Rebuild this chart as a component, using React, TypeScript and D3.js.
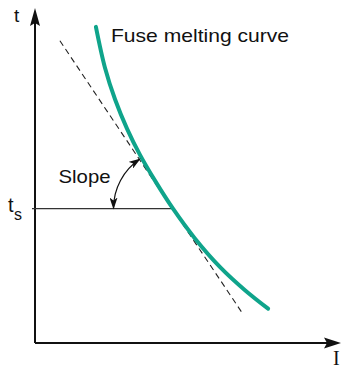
import * as d3 from "d3";

// fuse melting curve (I and t in arbitrary units 0..100)
const curveI = [20.3, 23.3, 26.7, 30.7, 35, 40, 46, 53.3, 61.7, 70, 77.7];
const curveT = [95.8, 83.5, 73.8, 64.9, 57.0, 49.2, 40.7, 31.7, 23.0, 16.0, 10.4];

// tangent (dashed) line end points
const tangentI = [8.3, 69.3];
const tangentT = [91.6, 8.8];

// the point where the tangent touches the curve
const touchI = 46;
const ts = 40.75;

const width = 341;
const height = 368;

export default function App() {
  const x = d3.scaleLinear().domain([0, 100]).range([35, 335]);
  const y = d3.scaleLinear().domain([0, 100]).range([343, 13]);

  const line = d3
    .line<[number, number]>()
    .x((d) => x(d[0]))
    .y((d) => y(d[1]))
    .curve(d3.curveCatmullRom);

  const curvePts = curveI.map((d, i) => [d, curveT[i]] as [number, number]);
  const tanPts = tangentI.map((d, i) => [d, tangentT[i]] as [number, number]);

  // slope arc, centred on the touching point
  const cx = x(touchI);
  const cy = y(ts);
  const r = 59.5;
  const dx = x(tangentI[0]) - x(tangentI[1]);
  const dy = y(tangentT[0]) - y(tangentT[1]);
  const len = Math.hypot(dx, dy);
  const ex = cx + (r * dx) / len;
  const ey = cy + (r * dy) / len;
  const arcPath = `M${cx - r},${cy} A${r},${r} 0 0 1 ${ex},${ey}`;

  const x0 = x(0);
  const y0 = y(0);
  const xEnd = x.range()[1];
  const yEnd = y.range()[1];

  return (
    <svg
      width={width}
      height={height}
      style={{ position: "absolute", left: 0, top: 0 }}
      fontFamily="'Liberation Sans', Arial, sans-serif"
    >
      <defs>
        <marker
          id="arr"
          viewBox="0 0 12 8"
          refX="11"
          refY="4"
          markerWidth="12"
          markerHeight="8"
          markerUnits="userSpaceOnUse"
          orient="auto-start-reverse"
        >
          <path d="M0,0 L12,4 L0,8 L3,4 Z" fill="#111" />
        </marker>
      </defs>

      {/* axes */}
      <line x1={x0} y1={y0} x2={x0} y2={yEnd} stroke="#111" strokeWidth={2} />
      <path
        d={`M${x0},${8} L${x0 + 5},${26} L${x0},${23} L${x0 - 5},${26} Z`}
        fill="#111"
      />
      <line x1={x0} y1={y0} x2={xEnd - 6} y2={y0} stroke="#111" strokeWidth={2} />
      <path
        d={`M${341},${y0} L${324},${y0 - 5.5} L${327},${y0} L${324},${y0 + 5.5} Z`}
        fill="#111"
      />

      {/* t_s level */}
      <line
        x1={x0 - 3}
        y1={cy}
        x2={cx}
        y2={cy}
        stroke="#333"
        strokeWidth={1.2}
      />

      {/* tangent */}
      <path
        d={line(tanPts) ?? ""}
        fill="none"
        stroke="#222"
        strokeWidth={1.1}
        strokeDasharray="6 4"
      />

      {/* melting curve */}
      <path
        d={line(curvePts) ?? ""}
        fill="none"
        stroke="#0fa48b"
        strokeWidth={4}
        strokeLinecap="round"
      />

      {/* slope arc */}
      <path
        d={arcPath}
        fill="none"
        stroke="#111"
        strokeWidth={1.2}
        markerStart="url(#arr)"
        markerEnd="url(#arr)"
      />

      {/* labels */}
      <text x={14} y={21.5} fontSize={19} fill="#111">
        t
      </text>
      <text x={8} y={211.5} fontSize={20} fill="#111">
        t
      </text>
      <text x={14} y={220} fontSize={16} fill="#111">
        s
      </text>
      <text
        x={111}
        y={41.7}
        fontSize={19}
        fill="#111"
        textLength={178}
        lengthAdjust="spacingAndGlyphs"
      >
        Fuse melting curve
      </text>
      <text
        x={58.5}
        y={183.3}
        fontSize={19}
        fill="#111"
        textLength={52}
        lengthAdjust="spacingAndGlyphs"
      >
        Slope
      </text>
      <text
        x={333}
        y={365}
        fontSize={20}
        fontFamily="'Liberation Serif', 'Times New Roman', serif"
        fill="#111"
      >
        I
      </text>
    </svg>
  );
}
